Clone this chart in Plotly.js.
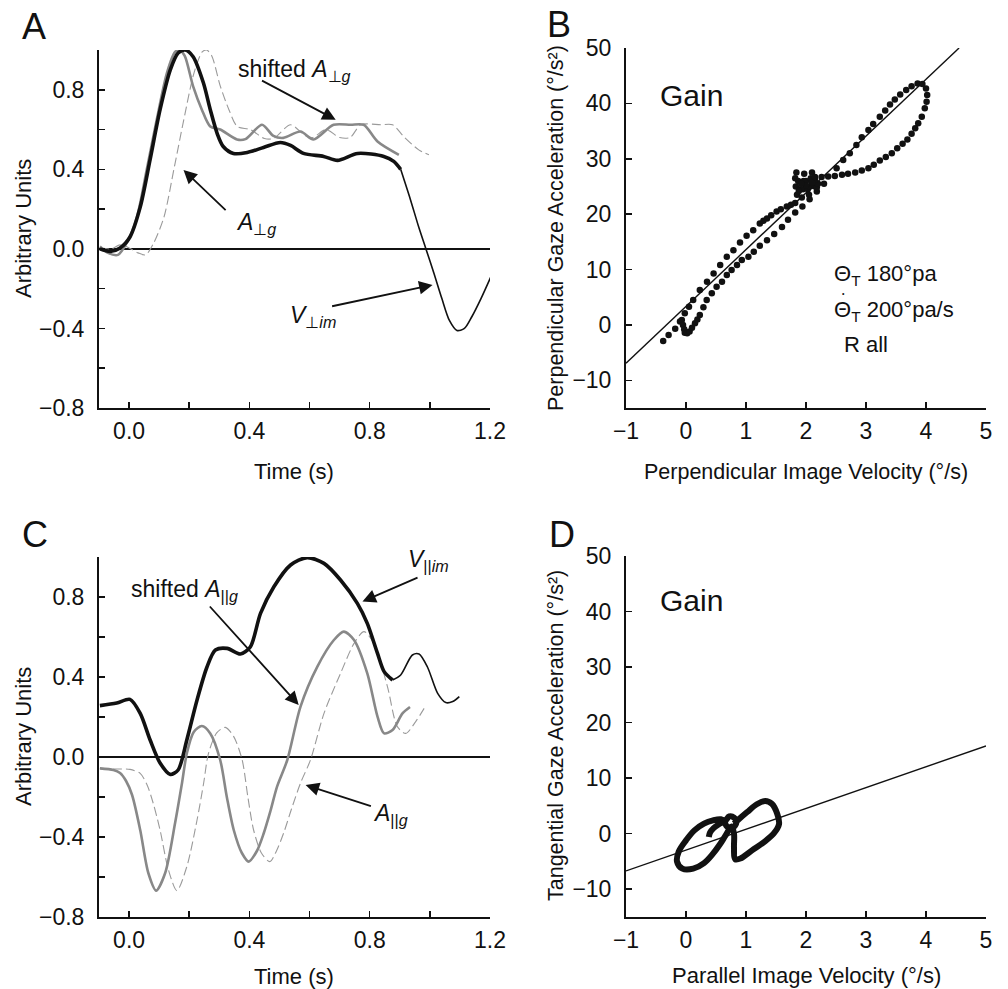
<!DOCTYPE html>
<html>
<head>
<meta charset="utf-8">
<script src="https://cdn.plot.ly/plotly-3.0.1.min.js"></script>
<style>
  html, body { margin: 0; padding: 0; background: #fff; }
  #fig { width: 1008px; height: 989px; }
</style>
</head>
<body>
<div id="fig"></div>
<script>
// ---- Panel A: perpendicular component (normalised) ----
const tA_vim = [-0.097,-0.063,-0.03,0.003,0.037,0.07,0.103,0.137,0.163,0.187,0.213,0.247,0.27,0.293,0.313,0.347,0.393,0.447,0.503,0.537,0.58,0.647,0.693,0.76,0.847,0.88,0.903];
const vA_vim = [0,-0.013,0.005,0.06,0.21,0.45,0.70,0.90,0.985,1.0,0.966,0.835,0.70,0.58,0.515,0.48,0.485,0.51,0.535,0.52,0.48,0.465,0.445,0.48,0.465,0.44,0.40];
const tA_vimTail = [0.903,0.935,0.963,0.987,1.013,1.04,1.065,1.09,1.115,1.14,1.17,1.203];
const vA_vimTail = [0.40,0.25,0.11,0.0,-0.12,-0.25,-0.36,-0.41,-0.40,-0.34,-0.25,-0.14];

const tA_shift = [-0.097,-0.07,-0.037,-0.008,0.026,0.059,0.092,0.126,0.153,0.168,0.185,0.213,0.242,0.27,0.303,0.359,0.387,0.442,0.48,0.513,0.57,0.613,0.68,0.737,0.78,0.826,0.897];
const vA_shift = [0.012,-0.02,-0.03,0.03,0.16,0.40,0.65,0.885,0.99,1.0,0.97,0.817,0.70,0.615,0.60,0.55,0.552,0.624,0.568,0.558,0.59,0.55,0.624,0.624,0.624,0.54,0.473];

const tA_acc = [-0.097,-0.06,-0.03,0.0,0.03,0.055,0.082,0.116,0.149,0.182,0.216,0.243,0.258,0.275,0.303,0.332,0.36,0.403,0.45,0.48,0.537,0.585,0.61,0.655,0.7,0.735,0.77,0.837,0.876,0.913,0.963,0.997];
const vA_acc = [0.005,0.0,0.02,0.005,-0.02,-0.03,0.03,0.16,0.40,0.65,0.885,0.99,1.0,0.97,0.82,0.70,0.615,0.60,0.555,0.555,0.624,0.57,0.56,0.60,0.56,0.56,0.624,0.624,0.624,0.565,0.498,0.473];

// ---- Panel C: parallel component (normalised) ----
const tC_vim = [-0.097,-0.041,0.003,0.037,0.07,0.103,0.137,0.163,0.192,0.226,0.259,0.287,0.326,0.37,0.403,0.437,0.481,0.537,0.592,0.648,0.703,0.759,0.792,0.826,0.848,0.876];
const vC_vim = [0.257,0.27,0.288,0.218,0.085,-0.03,-0.087,-0.065,0.085,0.285,0.45,0.535,0.543,0.515,0.55,0.718,0.85,0.96,0.997,0.968,0.885,0.768,0.668,0.518,0.427,0.385];
const tC_vimTail = [0.876,0.903,0.942,0.964,0.992,1.026,1.053,1.076,1.098];
const vC_vimTail = [0.385,0.41,0.51,0.515,0.45,0.318,0.272,0.277,0.302];

const tC_shift = [-0.097,-0.052,-0.03,-0.01,0.01,0.037,0.064,0.09,0.12,0.153,0.176,0.192,0.215,0.242,0.27,0.303,0.325,0.348,0.375,0.398,0.425,0.448,0.47,0.492,0.526,0.57,0.626,0.681,0.714,0.748,0.792,0.826,0.848,0.876,0.909,0.934];
const vC_shift = [-0.057,-0.065,-0.08,-0.12,-0.19,-0.365,-0.58,-0.668,-0.58,-0.33,-0.13,0.018,0.125,0.155,0.118,-0.015,-0.2,-0.365,-0.48,-0.523,-0.47,-0.38,-0.27,-0.148,-0.015,0.252,0.452,0.585,0.627,0.585,0.418,0.202,0.118,0.135,0.218,0.25];

const tC_acc = [-0.097,-0.05,0.003,0.037,0.06,0.08,0.103,0.131,0.159,0.192,0.226,0.248,0.264,0.292,0.32,0.348,0.376,0.395,0.414,0.44,0.468,0.49,0.514,0.54,0.57,0.603,0.648,0.703,0.748,0.781,0.814,0.859,0.892,0.92,0.953,0.981];
const vC_acc = [-0.057,-0.06,-0.062,-0.082,-0.14,-0.23,-0.365,-0.565,-0.668,-0.548,-0.315,-0.13,0.018,0.122,0.148,0.102,-0.015,-0.2,-0.365,-0.48,-0.523,-0.47,-0.38,-0.26,-0.13,-0.015,0.218,0.418,0.568,0.627,0.568,0.352,0.152,0.118,0.177,0.243];

// ---- Panel B: perpendicular gaze acceleration vs image velocity ----
const bVel = [
  -0.38,-0.29,-0.18,-0.10,-0.02,0.05,0.12,0.23,0.35,0.46,0.57,0.68,0.79,0.90,1.01,1.12,1.23,1.29,1.35,1.42,1.51,1.58,1.68,1.75,1.82,
  -0.07,-0.05,-0.03,-0.02,0.02,0.06,0.10,0.15,0.19,0.23,0.29,
  0.345,0.43,0.51,0.60,0.68,0.76,0.85,0.93,1.04,1.13,1.23,1.35,1.47,1.60,1.70,1.82,1.94,2.06,2.18,2.30,
  1.85,1.83,1.82,1.84,1.87,1.90,1.93,1.95,1.96,1.97,2.00,2.03,2.05,2.07,2.08,2.10,2.12,2.15,2.18,2.20,2.15,2.10,2.00,1.92,1.88,
  2.51,2.62,2.73,2.84,2.93,3.04,3.12,3.23,3.32,3.40,3.48,3.57,3.67,3.76,3.86,3.94,
  4.00,4.02,4.01,3.98,3.93,3.87,3.82,3.76,3.69,3.61,3.52,3.43,3.33,3.23,3.13,3.04,2.93,2.82,2.70,2.60,2.48,2.37,2.26,2.15
];
const bAcc = [
  -2.9,-1.8,-0.7,0.6,2.1,3.3,4.5,6.3,7.8,9.3,10.8,12.3,13.5,14.9,16.1,17.1,18.3,18.8,19.2,19.8,20.5,20.9,21.4,21.7,22.0,
  0.9,0.0,-0.8,-1.4,-1.5,-1.2,-0.5,0.3,1.0,1.8,3.2,
  4.5,5.7,6.9,7.8,9.0,9.9,10.8,11.7,12.3,13.2,14.3,15.3,16.4,17.7,19.0,20.3,21.4,22.7,24.1,25.5,
  23.5,25.0,26.5,27.5,26.0,24.5,23.0,24.5,26.0,27.3,26.0,24.5,23.5,25.0,26.5,27.5,26.3,25.0,24.8,25.5,26.2,25.7,25.2,25.5,24.2,
  28.3,29.8,31.0,32.5,33.9,35.2,36.3,37.6,38.7,39.8,40.7,41.6,42.4,43.1,43.6,43.5,
  42.7,41.5,40.3,39.1,37.6,36.4,35.5,34.5,33.5,32.7,31.9,31.0,30.3,29.7,28.9,28.3,27.9,27.5,27.3,27.1,26.9,26.8,26.7,26.7
];
const bFit = { slope: 10.25, intercept: 3.35 };

// ---- Panel D: tangential gaze acceleration vs parallel image velocity ----
const dVel = [0.38,0.40,0.46,0.56,0.66,0.72,0.80,0.84,0.78,0.68,0.64,0.58,0.45,0.30,0.14,0.0,-0.12,-0.15,-0.06,0.12,0.30,0.45,0.56,0.66,0.76,0.80,0.80,0.82,0.92,1.10,1.30,1.46,1.55,1.52,1.43,1.32,1.18,1.02,0.88,0.80];
const dAcc = [-0.6,0.2,1.0,1.8,2.4,3.1,2.9,2.0,1.1,1.3,2.2,2.6,2.4,1.8,0.6,-1.2,-3.2,-5.0,-6.3,-6.3,-5.3,-3.6,-2.0,-0.3,1.3,0.0,-2.5,-4.6,-4.4,-3.0,-1.5,0.0,1.7,3.6,5.4,5.9,5.3,3.9,2.6,1.8];
const dFit = { slope: 3.75, intercept: -2.95 };

// ---- Axis ranges and ticks ----
const timeRange = [-0.1, 1.2];
const unitRange = [-0.8, 1.0];
const velRange = [-1, 5];
const accRange = [-15, 50];
const timeLabels = [0, 0.4, 0.8, 1.2];
const timeMinorStep = 0.2;
const unitLabels = [-0.8, -0.4, 0, 0.4, 0.8];
const unitMinorStep = 0.2;
const velTicks = [-1, 0, 1, 2, 3, 4, 5];
const accTicks = [-10, 0, 10, 20, 30, 40, 50];

const FONT = 'Liberation Sans, Arial, Helvetica, sans-serif';
const INK = '#111111';
const TICK_SIZE = 23;
const TITLE_SIZE = 22;

function fitLine(fit, xr, yr) {
  // regression line clipped to the axis box
  const x0 = xr[0];
  let x1 = xr[1];
  if (fit.slope * x1 + fit.intercept > yr[1]) x1 = (yr[1] - fit.intercept) / fit.slope;
  return { x: [x0, x1], y: [fit.slope * x0 + fit.intercept, fit.slope * x1 + fit.intercept] };
}

const traces = [];
function line(x, y, ax, ay, color, width, dash) {
  traces.push({
    type: 'scatter', mode: 'lines', x, y, xaxis: ax, yaxis: ay,
    line: { color, width, dash: dash || 'solid', shape: 'spline', smoothing: 0.8 },
    hoverinfo: 'skip', showlegend: false
  });
}

// Panel A
line(tA_acc, vA_acc, 'x', 'y', '#9a9a9a', 1.1, '9px,4px');
line(tA_shift, vA_shift, 'x', 'y', '#888888', 2.6);
line(tA_vimTail, vA_vimTail, 'x', 'y', INK, 1.6);
line(tA_vim, vA_vim, 'x', 'y', INK, 3.6);

// Panel C
line(tC_acc, vC_acc, 'x3', 'y3', '#9a9a9a', 1.1, '9px,4px');
line(tC_shift, vC_shift, 'x3', 'y3', '#888888', 2.6);
line(tC_vimTail, vC_vimTail, 'x3', 'y3', INK, 1.6);
line(tC_vim, vC_vim, 'x3', 'y3', INK, 3.6);

// Panel B
const bl = fitLine(bFit, velRange, accRange);
traces.push({ type: 'scatter', mode: 'lines', x: bl.x, y: bl.y, xaxis: 'x2', yaxis: 'y2',
  line: { color: INK, width: 1.4 }, hoverinfo: 'skip', showlegend: false });
traces.push({ type: 'scatter', mode: 'markers', x: bVel, y: bAcc, xaxis: 'x2', yaxis: 'y2',
  marker: { color: INK, size: 6.5 }, hoverinfo: 'skip', showlegend: false });

// Panel D
const dl = fitLine(dFit, velRange, accRange);
traces.push({ type: 'scatter', mode: 'lines', x: dl.x, y: dl.y, xaxis: 'x4', yaxis: 'y4',
  line: { color: INK, width: 1.4 }, hoverinfo: 'skip', showlegend: false });
traces.push({ type: 'scatter', mode: 'lines', x: dVel, y: dAcc, xaxis: 'x4', yaxis: 'y4',
  line: { color: INK, width: 6, shape: 'spline', smoothing: 1 }, hoverinfo: 'skip', showlegend: false });

// ---- Layout ----
const W = 1008, H = 989;
const px = v => v / W;
const py = v => 1 - v / H;

function axisBase(extra) {
  return Object.assign({
    showline: true, linecolor: INK, linewidth: 2,
    ticks: 'inside', ticklen: 6, tickwidth: 1.5, tickcolor: INK,
    showgrid: false, zeroline: false, automargin: false, fixedrange: true,
    tickfont: { family: FONT, size: TICK_SIZE, color: INK }
  }, extra);
}

const colL = [px(99), px(490)];
const colR = [px(626), px(986)];
const rowTopA = [py(408), py(50)];
const rowTopB = [py(408), py(48)];
const rowBotC = [py(917), py(557)];
const rowBotD = [py(917), py(556)];

const minorTicks = step => ({ dtick: step, tick0: 0, ticks: 'inside', ticklen: 6, tickwidth: 1.5, tickcolor: INK, showgrid: false });

const timeAxis = (dom, anchor) => axisBase({ domain: dom, anchor, range: timeRange,
  tickmode: 'array', tickvals: timeLabels, tickformat: '.1f', ticklabelstandoff: 1,
  minor: minorTicks(timeMinorStep) });
const unitAxis = (dom, anchor) => axisBase({ domain: dom, anchor, range: unitRange,
  tickmode: 'array', tickvals: unitLabels, tickformat: '.1f',
  zeroline: true, zerolinecolor: INK, zerolinewidth: 1.6, ticklabelstandoff: 8,
  minor: minorTicks(unitMinorStep) });
const velAxis = (dom, anchor) => axisBase({ domain: dom, anchor, range: velRange,
  tickmode: 'array', tickvals: velTicks, ticklabelstandoff: 1 });
const accAxis = (dom, anchor) => axisBase({ domain: dom, anchor, range: accRange,
  tickmode: 'array', tickvals: accTicks, ticklabelstandoff: 8 });

const annotations = [];
function paperText(text, x, y, size, opts) {
  annotations.push(Object.assign({ text, xref: 'paper', yref: 'paper', x: px(x), y: py(y),
    showarrow: false, font: { family: FONT, size, color: INK }, xanchor: 'center', yanchor: 'middle' }, opts || {}));
}
function dataText(text, xr, yr, x, y, size, opts) {
  annotations.push(Object.assign({ text, xref: xr, yref: yr, x, y, showarrow: false,
    font: { family: FONT, size, color: INK }, xanchor: 'center', yanchor: 'middle' }, opts || {}));
}
function arrow(xr, yr, tail, head) {
  annotations.push({ text: '', xref: xr, yref: yr, axref: xr, ayref: yr,
    x: head[0], y: head[1], ax: tail[0], ay: tail[1], showarrow: true,
    arrowhead: 2, arrowsize: 1.5, arrowwidth: 1.8, arrowcolor: INK, standoff: 0, startstandoff: 0 });
}

// panel letters
paperText('A', 20, 26, 36, { xanchor: 'left' });
paperText('B', 545, 25, 36, { xanchor: 'left' });
paperText('C', 20, 534, 36, { xanchor: 'left' });
paperText('D', 547, 534, 36, { xanchor: 'left' });

// axis titles
paperText('Arbitrary Units', 23, 229, TITLE_SIZE, { textangle: -90 });
paperText('Arbitrary Units', 23, 737, TITLE_SIZE, { textangle: -90 });
paperText('Perpendicular Gaze Acceleration (°/s²)', 556, 228, TITLE_SIZE - 0.5, { textangle: -90 });
paperText('Tangential Gaze Acceleration (°/s²)', 556, 736, TITLE_SIZE - 0.5, { textangle: -90 });
paperText('Time (s)', 294, 472, TITLE_SIZE);
paperText('Perpendicular Image Velocity (°/s)', 806, 472, TITLE_SIZE - 0.5);
paperText('Time (s)', 294, 976, TITLE_SIZE);
paperText('Parallel Image Velocity (°/s)', 806, 975, TITLE_SIZE);

// Panel A labels
dataText('shifted <i>A</i><sub>⊥<i>g</i></sub>', 'x', 'y', 0.55, 0.895, 23);
arrow('x', 'y', [0.437, 0.85], [0.687, 0.649]);
dataText('<i>A</i><sub>⊥<i>g</i></sub>', 'x', 'y', 0.423, 0.13, 23);
arrow('x', 'y', [0.326, 0.188], [0.181, 0.397]);
dataText('<i>V</i><sub>⊥<i>im</i></sub>', 'x', 'y', 0.61, -0.34, 23);
arrow('x', 'y', [0.67, -0.29], [1.009, -0.181]);

// Panel C labels
dataText('shifted <i>A</i><sub>||<i>g</i></sub>', 'x3', 'y3', 0.183, 0.835, 23);
arrow('x3', 'y3', [0.264, 0.76], [0.564, 0.26]);
dataText('<i>V</i><sub>||<i>im</i></sub>', 'x3', 'y3', 0.997, 0.985, 23);
arrow('x3', 'y3', [0.964, 0.9], [0.776, 0.777]);
dataText('<i>A</i><sub>||<i>g</i></sub>', 'x3', 'y3', 0.87, -0.285, 23);
arrow('x3', 'y3', [0.809, -0.248], [0.587, -0.14]);

// Panel B labels
dataText('Gain', 'x2', 'y2', -0.47, 41.5, 30, { xanchor: 'left' });
dataText('Θ<sub>T</sub> 180°pa', 'x2', 'y2', 2.43, 9.0, 22, { xanchor: 'left' });
dataText('Θ<sub>T</sub> 200°pa/s', 'x2', 'y2', 2.43, 2.6, 22, { xanchor: 'left' });
dataText('•', 'x2', 'y2', 2.625, 5.6, 7);   // rate dot over the second Θ
dataText('R all', 'x2', 'y2', 2.6, -3.6, 22, { xanchor: 'left' });

// Panel D labels
dataText('Gain', 'x4', 'y4', -0.47, 42.0, 30, { xanchor: 'left' });

const layout = {
  width: W, height: H,
  margin: { l: 0, r: 0, t: 0, b: 0, pad: 0 },
  paper_bgcolor: '#ffffff', plot_bgcolor: 'rgba(0,0,0,0)',
  showlegend: false,
  font: { family: FONT, color: INK },
  xaxis: timeAxis(colL, 'y'),
  yaxis: unitAxis(rowTopA, 'x'),
  xaxis2: velAxis(colR, 'y2'),
  yaxis2: accAxis(rowTopB, 'x2'),
  xaxis3: timeAxis(colL, 'y3'),
  yaxis3: unitAxis(rowBotC, 'x3'),
  xaxis4: velAxis(colR, 'y4'),
  yaxis4: accAxis(rowBotD, 'x4'),
  annotations
};

Plotly.newPlot('fig', traces, layout, { staticPlot: true, displayModeBar: false });
</script>
</body>
</html>
